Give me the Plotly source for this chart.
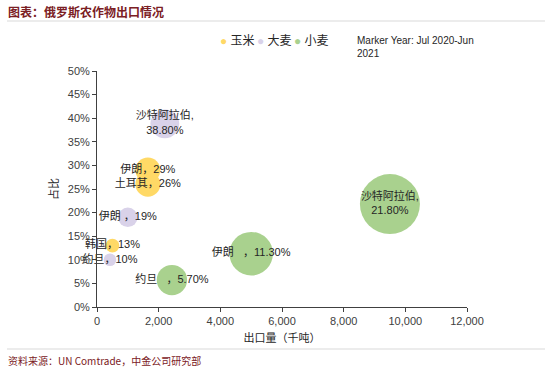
import plotly.graph_objects as go

# ---- data ----
corn_names = ["伊朗", "土耳其", "韩国"]
corn_x = [1650, 1650, 500]
corn_y = [0.29, 0.26, 0.13]
corn_labels = ["伊朗，29%", "土耳其，26%", "韩国，13%"]

barley_names = ["沙特阿拉伯", "伊朗", "约旦"]
barley_x = [2200, 1000, 420]
barley_y = [0.388, 0.19, 0.10]
barley_labels = ["沙特阿拉伯,<br>38.80%", "伊朗 ，19%", "约旦，10%"]

wheat_names = ["沙特阿拉伯", "伊朗", "约旦"]
wheat_x = [9500, 5000, 2430]
wheat_y = [0.218, 0.113, 0.057]
wheat_labels = ["沙特阿拉伯,<br>21.80%", "伊朗   ，11.30%", "约旦   ，5.70%"]

series_names = ["玉米", "大麦", "小麦"]
colors = ["#FFD966", "#D9D2E9", "#A9D18E"]

x_ticks = [0, 2000, 4000, 6000, 8000, 10000, 12000]
y_ticks = [0, 0.05, 0.10, 0.15, 0.20, 0.25, 0.30, 0.35, 0.40, 0.45, 0.50]

FONT = "Liberation Sans, Arial, Noto Sans CJK SC"
max_size = max(corn_x + barley_x + wheat_x)
sizeref = 2.0 * max_size / (60 ** 2)

fig = go.Figure()
for name, xs, ys, labels, col in [
    (series_names[0], corn_x, corn_y, corn_labels, colors[0]),
    (series_names[1], barley_x, barley_y, barley_labels, colors[1]),
    (series_names[2], wheat_x, wheat_y, wheat_labels, colors[2]),
]:
    fig.add_trace(go.Scatter(
        x=xs, y=ys, name=name, mode="markers+text",
        text=labels, textposition="middle center",
        textfont=dict(family=FONT, size=11, color="#262626"),
        marker=dict(size=xs, sizemode="area", sizeref=sizeref, color=col,
                    opacity=1, line=dict(width=0)),
        showlegend=False, cliponaxis=False,
    ))

W, H = 550, 373
ml, mr, mt, mb = 97, 83, 71, 66

fig.update_layout(
    width=W, height=H,
    margin=dict(l=ml, r=mr, t=mt, b=mb, autoexpand=False),
    paper_bgcolor="white", plot_bgcolor="white",
    font=dict(family=FONT, size=11, color="#404040"),
    xaxis=dict(range=[0, 12000], tickvals=x_ticks, tickformat=",d",
               automargin=False,
               showgrid=False, zeroline=False, showline=True,
               linecolor="#404040", linewidth=1, ticks="outside",
               ticklen=4, tickcolor="#404040",
               tickfont=dict(size=11, color="#404040"),
               title=dict(text="出口量（千吨）", standoff=8,
                          font=dict(size=11, color="#262626"))),
    yaxis=dict(range=[0, 0.5], tickvals=y_ticks, tickformat=".0%",
               automargin=False,
               showgrid=False, zeroline=False, showline=True,
               linecolor="#404040", linewidth=1, ticks="outside",
               ticklen=4, tickcolor="#404040",
               tickfont=dict(size=11, color="#404040"),
               title=dict(text="占比", standoff=6,
                          font=dict(size=11, color="#262626"))),
    showlegend=False,
)

def px_x(p):
    return (p - ml) / (W - ml - mr)

def px_y(p):
    return 1 - (p - mt) / (H - mt - mb)

# legend drawn as annotations
leg_x = [218, 255, 292]
for lx, nm, col in zip(leg_x, series_names, colors):
    fig.add_annotation(
        xref="paper", yref="paper", x=px_x(lx), y=px_y(41),
        xanchor="left", yanchor="middle", showarrow=False,
        text=f"<span style='color:{col}'>●</span> {nm}",
        font=dict(family=FONT, size=12, color="#262626"),
    )

fig.add_annotation(
    xref="paper", yref="paper", x=px_x(355), y=px_y(33),
    xanchor="left", yanchor="top", showarrow=False, align="left",
    text="Marker Year: Jul 2020-Jun<br>2021",
    font=dict(family=FONT, size=10, color="#262626"),
)

# header title and footer
fig.add_annotation(
    xref="paper", yref="paper", x=px_x(6), y=px_y(11),
    xanchor="left", yanchor="middle", showarrow=False,
    text="<b>图表：俄罗斯农作物出口情况</b>",
    font=dict(family="Noto Sans CJK SC", size=12, color="#7B2024"),
)
fig.add_annotation(
    xref="paper", yref="paper", x=px_x(6), y=px_y(360),
    xanchor="left", yanchor="middle", showarrow=False,
    text="资料来源：UN Comtrade，中金公司研究部",
    font=dict(family="Noto Sans CJK SC", size=10, color="#7B2024"),
)

fig.add_shape(type="line", xref="paper", yref="paper",
              x0=px_x(7), x1=px_x(545), y0=px_y(21), y1=px_y(21),
              line=dict(color="#D9D9D9", width=1))
fig.add_shape(type="line", xref="paper", yref="paper",
              x0=px_x(7), x1=px_x(545), y0=px_y(349), y1=px_y(349),
              line=dict(color="#D9D9D9", width=1))

fig.write_html("out.html",
               config={"displayModeBar": False},
               post_script="document.body.style.margin='0';document.body.style.overflow='hidden';")
